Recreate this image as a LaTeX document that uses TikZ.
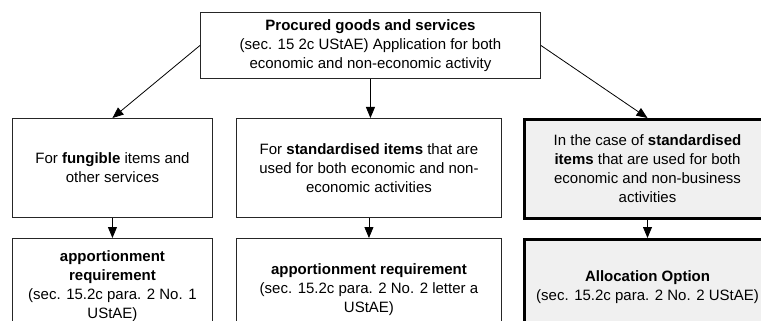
\documentclass[tikz,border=0pt]{standalone}
\usepackage{fontspec}
\setmainfont{Liberation Sans}
\usetikzlibrary{arrows.meta}
\definecolor{optfill}{HTML}{F0F0F0}
\definecolor{edge}{HTML}{262626}
\begin{document}
\begin{tikzpicture}[x=1pt,y=-1pt,
  every node/.style={font=\fontsize{15}{19}\selectfont, align=center, inner sep=0pt},
  plainbox/.style={draw=edge, line width=0.9pt, fill=white, anchor=north west},
  optbox/.style={draw=black, line width=3pt, fill=optfill, anchor=north west},
  link/.style={draw=black, line width=0.8pt, -{Triangle[length=11pt,width=9pt]}}]
  \useasboundingbox (0,0) rectangle (761,321);
  \clip (0,0) rectangle (761,321);

  % header
  \node[plainbox, minimum width=340pt, minimum height=66pt] (top) at (200,12)
    {\textbf{Procured goods and services}\\(sec. 15 2c UStAE) Application for both\\economic and non-economic activity};

  % upper row
  \node[plainbox, minimum width=200pt, minimum height=99pt] (fung) at (12,118)
    {For \textbf{fungible} items and\\other services};
  \node[plainbox, minimum width=265pt, minimum height=99pt] (std) at (236,118)
    {For \textbf{standardised items} that are\\used for both economic and non-\\economic activities};
  \node[optbox, minimum width=246pt, minimum height=99pt] (opt) at (523,118)
    {In the case of \textbf{standardised}\\\textbf{items} that are used for both\\economic and non-business\\activities};

  % lower row
  \node[plainbox, minimum width=200pt, minimum height=95pt] (appA) at (12,238)
    {\textbf{apportionment}\\\textbf{requirement}\\(sec. 15.2c para. 2 No. 1\\UStAE)};
  \node[plainbox, minimum width=265pt, minimum height=95pt] (appB) at (236,238)
    {\mbox{}\\\textbf{apportionment requirement}\\(sec. 15.2c para. 2 No. 2 letter a\\UStAE)};
  \node[optbox, minimum width=246pt, minimum height=95pt] (alloc) at (523,238)
    {\textbf{Allocation Option}\\(sec. 15.2c para. 2 No. 2 UStAE)};

  % connectors
  \draw[link] (top.west) -- (fung.north);
  \draw[link] (top.south) -- (top.south |- std.north);
  \draw[link] (top.east) -- (opt.north);
  \draw[link] (fung.south) -- (appA.north);
  \draw[link] (std.south) -- (appB.north);
  \draw[link] (opt.south) -- (alloc.north);
\end{tikzpicture}
\end{document}
